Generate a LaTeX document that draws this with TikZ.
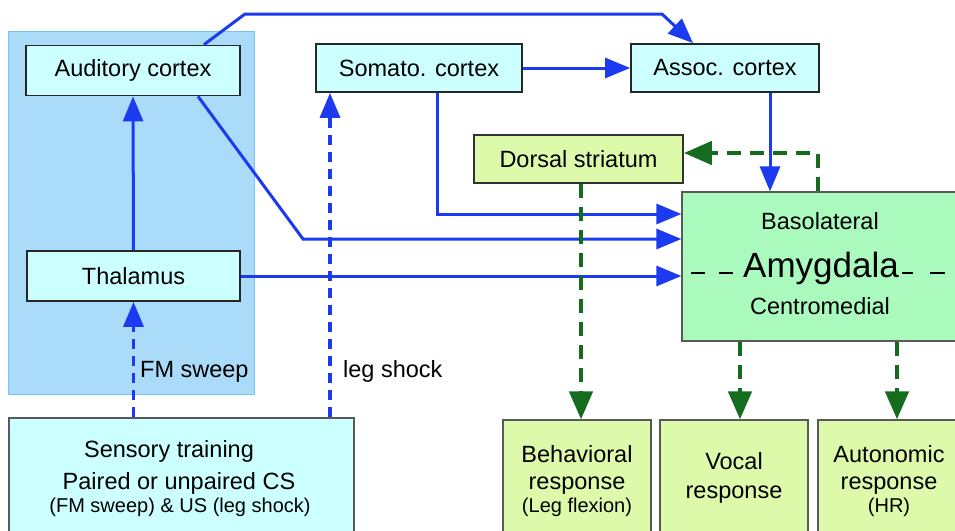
\documentclass[tikz,border=0pt]{standalone}
\usepackage{fontspec}
\setmainfont{Liberation Sans}
\usetikzlibrary{arrows.meta}
\definecolor{bluA}{RGB}{28,58,240}
\definecolor{grnA}{RGB}{22,108,30}
\definecolor{cyanfill}{RGB}{204,255,255}
\definecolor{panelfill}{RGB}{170,220,250}
\definecolor{panelline}{RGB}{120,195,240}
\definecolor{limefill}{RGB}{220,250,170}
\definecolor{mintfill}{RGB}{170,250,190}
\tikzset{
  cbox/.style={draw=black!85,line width=1.8pt,fill=cyanfill,inner sep=0pt,font=\fontsize{23.5}{28}\selectfont},
  gbox/.style={draw=black!80,line width=1.8pt,fill=limefill,inner sep=0pt,font=\fontsize{23.5}{28}\selectfont},
  tbox/.style={draw=black!65,line width=1.2pt,inner sep=0pt},
  txt/.style={inner sep=0pt,anchor=base,font=\fontsize{23.5}{28}\selectfont},
  stxt/.style={inner sep=0pt,anchor=base,font=\fontsize{20}{24}\selectfont},
  blu/.style={draw=bluA,line width=3pt,-{Triangle[length=25pt,width=20pt]}},
  bludash/.style={blu,line width=3.5pt,dash pattern=on 10pt off 7pt},
  grn/.style={draw=grnA,line width=4.5pt,dash pattern=on 14pt off 9pt,-{Triangle[length=28pt,width=23pt]}},
  amdash/.style={draw=black,line width=1.4pt}
}
\begin{document}
\begin{tikzpicture}[x=1pt,y=-1pt]
\useasboundingbox (0,0) rectangle (955,530);
% panel
\node[draw=panelline,line width=1pt,fill=panelfill,minimum width=246pt,minimum height=363pt,inner sep=0pt] (pan) at (131,213) {};
% boxes
\node[cbox,minimum width=214pt,minimum height=50pt] (aud) at (133,70.5) {Auditory cortex};
\node[cbox,minimum width=213pt,minimum height=50pt] (thal) at (133.5,276) {Thalamus};
\node[cbox,minimum width=206pt,minimum height=48pt] (som) at (419,68) {Somato. cortex};
\node[cbox,minimum width=188pt,minimum height=48pt] (assoc) at (725,68) {Assoc. cortex};
\node[gbox,minimum width=209pt,minimum height=48pt] (dors) at (578.5,159) {Dorsal striatum};
\node[tbox,fill=mintfill,minimum width=280pt,minimum height=149pt] (amyg) at (822,266.5) {};
\node[tbox,fill=cyanfill,minimum width=345pt,minimum height=125pt] (sens) at (181.5,480.5) {};
\node[tbox,fill=limefill,minimum width=148pt,minimum height=125pt] (beh) at (577,482.5) {};
\node[tbox,fill=limefill,minimum width=148pt,minimum height=125pt] (voc) at (734,482.5) {};
\node[tbox,fill=limefill,minimum width=148pt,minimum height=125pt] (aut) at (892,482.5) {};
% texts
\node[txt] (bl) at (820,229) {Basolateral};
\node[inner sep=0pt,anchor=base,font=\fontsize{35}{40}\selectfont] (am) at (821,277) {Amygdala};
\node[txt] (cm) at (820,314) {Centromedial};
\draw[amdash] (691,273) -- (705,273);
\draw[amdash] (719,273) -- (733,273);
\draw[amdash] (902,273) -- (913,273);
\draw[amdash] (930,273) -- (945,273);
\node[txt] (s1) at (169,457) {Sensory training};
\node[txt] (s2) at (179,489) {Paired or unpaired CS};
\node[stxt] (s3) at (180,512) {(FM sweep) \& US (leg shock)};
\node[txt] (b1) at (577,462) {Behavioral};
\node[txt] (b2) at (577,489) {response};
\node[stxt] (b3) at (577,512) {(Leg flexion)};
\node[txt] (v1) at (734,469) {Vocal};
\node[txt] (v2) at (734,498) {response};
\node[txt] (a1) at (889,462) {Autonomic};
\node[txt] (a2) at (889,489) {response};
\node[stxt] (a3) at (889,512) {(HR)};
\node[txt,anchor=base west] (fm) at (140,377) {FM sweep};
\node[txt,anchor=base west] (ls) at (343,377) {leg shock};
% connectors
\draw[blu] (thal.north) -- (aud.south);
\draw[bludash] (sens.north -| thal.north) -- (thal.south);
\draw[bludash] (sens.north -| 330,0) -- (som.south -| 330,0);
\draw[blu] (aud.north -| 204,0) -- (245,14) -- (662,14) -- (assoc.north -| 693,0);
\draw[blu] (aud.south -| 198,0) -- (303,239) -- (amyg.west |- 0,239);
\draw[blu] (thal.east) -- (amyg.west |- thal.east);
\draw[blu] (som.south -| 437,0) |- (amyg.west |- 0,214);
\draw[blu] (som.east) -- (assoc.west);
\draw[blu] (assoc.south -| 770,0) -- (amyg.north -| 770,0);
\draw[grn] (amyg.north -| 818,0) |- (dors.east |- 0,153);
\draw[grn] (dors.south -| 581,0) -- (beh.north -| 581,0);
\draw[grn] (amyg.south -| 740,0) -- (voc.north -| 740,0);
\draw[grn] (amyg.south -| 897,0) -- (aut.north -| 897,0);
\end{tikzpicture}
\end{document}
